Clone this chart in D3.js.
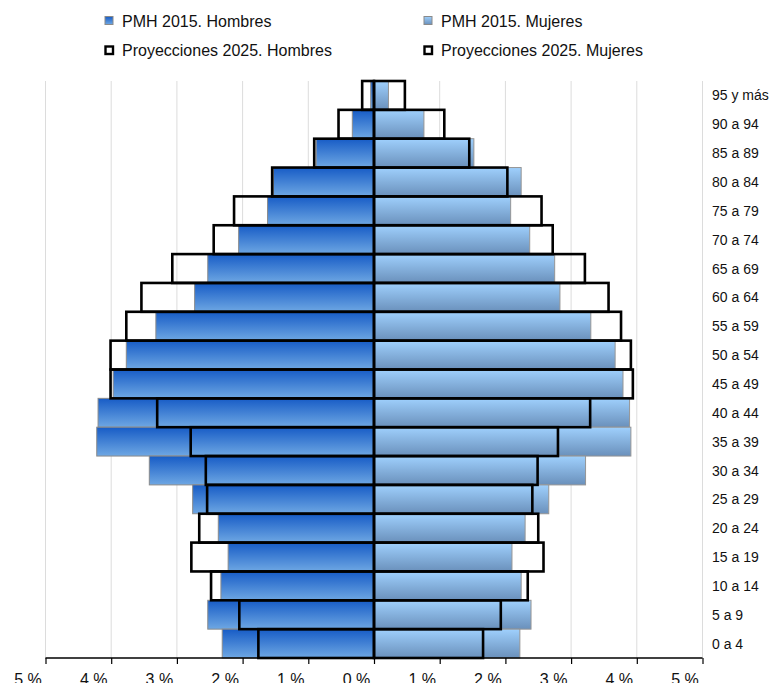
<!DOCTYPE html>
<html>
<head>
<meta charset="utf-8">
<script src="https://cdn.jsdelivr.net/npm/d3@7"></script>
<style>
  body { margin: 0; background: #fff; }
  svg { display: block; font-family: "Liberation Sans", Arial, sans-serif; }
</style>
</head>
<body>
<div id="chart"></div>
<script>
// age groups, top to bottom
const ages = ["95 y más", "90 a 94", "85 a 89", "80 a 84", "75 a 79", "70 a 74", "65 a 69",
  "60 a 64", "55 a 59", "50 a 54", "45 a 49", "40 a 44", "35 a 39", "30 a 34", "25 a 29",
  "20 a 24", "15 a 19", "10 a 14", "5 a 9", "0 a 4"];

// % of population
const pmhHombres = [0.05, 0.33, 0.88, 1.53, 1.62, 2.06, 2.53, 2.73, 3.32, 3.77, 3.97, 4.20,
  4.22, 3.42, 2.76, 2.37, 2.22, 2.33, 2.53, 2.31];
const pmhMujeres = [0.22, 0.76, 1.52, 2.24, 2.08, 2.37, 2.75, 2.83, 3.30, 3.67, 3.79, 3.89,
  3.91, 3.22, 2.66, 2.30, 2.10, 2.24, 2.39, 2.22];
const proyHombres = [0.18, 0.54, 0.91, 1.55, 2.13, 2.44, 3.07, 3.54, 3.77, 4.01, 4.01, 3.30,
  2.79, 2.56, 2.54, 2.66, 2.78, 2.48, 2.05, 1.76];
const proyMujeres = [0.47, 1.07, 1.45, 2.03, 2.55, 2.72, 3.21, 3.57, 3.76, 3.91, 3.94, 3.29,
  2.80, 2.49, 2.41, 2.50, 2.58, 2.34, 1.93, 1.66];

const xTicks = [-5, -4, -3, -2, -1, 0, 1, 2, 3, 4, 5];
const legendItems = ["PMH 2015. Hombres", "PMH 2015. Mujeres",
  "Proyecciones 2025. Hombres", "Proyecciones 2025. Mujeres"];

const width = 772, height = 683;
const plotTop = 81, plotBottom = 658;

const svg = d3.select("#chart").append("svg")
  .attr("width", width)
  .attr("height", height);

const defs = svg.append("defs");
function grad(id, c1, c2) {
  const g = defs.append("linearGradient").attr("id", id)
    .attr("x1", 0).attr("y1", 0).attr("x2", 0).attr("y2", 1);
  g.append("stop").attr("offset", "0%").attr("stop-color", c1);
  g.append("stop").attr("offset", "100%").attr("stop-color", c2);
}
grad("gMen", "#175cc6", "#6ea7e3");
grad("gWomen", "#9fd0fd", "#6a90bb");

const x = d3.scaleLinear().domain([-5, 5]).range([45.5, 702.5]);
const y = d3.scaleBand().domain(ages).range([plotTop, plotBottom]).padding(0);

// gridlines
svg.append("g").attr("class", "grid")
  .selectAll("line")
  .data(xTicks.filter(d => d !== 0))
  .join("line")
  .attr("x1", d => x(d)).attr("x2", d => x(d))
  .attr("y1", plotTop).attr("y2", plotBottom)
  .attr("stroke", "#dcdcdc")
  .attr("stroke-width", 1);

// 2015 bars
const rows = ages.map((a, i) => ({
  age: a, mh: pmhHombres[i], mm: pmhMujeres[i], ph: proyHombres[i], pm: proyMujeres[i]
}));

svg.append("g").attr("class", "pmh-h")
  .selectAll("rect")
  .data(rows)
  .join("rect")
  .attr("x", d => x(-d.mh))
  .attr("y", d => y(d.age))
  .attr("width", d => x(0) - x(-d.mh))
  .attr("height", y.bandwidth())
  .attr("fill", "url(#gMen)")
  .attr("stroke", "#8a8a8a")
  .attr("stroke-width", 1);

svg.append("g").attr("class", "pmh-m")
  .selectAll("rect")
  .data(rows)
  .join("rect")
  .attr("x", x(0))
  .attr("y", d => y(d.age))
  .attr("width", d => x(d.mm) - x(0))
  .attr("height", y.bandwidth())
  .attr("fill", "url(#gWomen)")
  .attr("stroke", "#959595")
  .attr("stroke-width", 1);

// 2025 projections as outlines
svg.append("g").attr("class", "proy-h")
  .selectAll("rect")
  .data(rows)
  .join("rect")
  .attr("x", d => x(-d.ph))
  .attr("y", d => y(d.age))
  .attr("width", d => x(0) - x(-d.ph))
  .attr("height", y.bandwidth())
  .attr("fill", "none")
  .attr("stroke", "#000")
  .attr("stroke-width", 2.6);

svg.append("g").attr("class", "proy-m")
  .selectAll("rect")
  .data(rows)
  .join("rect")
  .attr("x", x(0))
  .attr("y", d => y(d.age))
  .attr("width", d => x(d.pm) - x(0))
  .attr("height", y.bandwidth())
  .attr("fill", "none")
  .attr("stroke", "#000")
  .attr("stroke-width", 2.6);

// vertical axis at 0
svg.append("line")
  .attr("x1", x(0)).attr("x2", x(0))
  .attr("y1", plotTop).attr("y2", plotBottom)
  .attr("stroke", "#000").attr("stroke-width", 1.5);

// category labels on the right
svg.append("g").attr("class", "ages")
  .selectAll("text")
  .data(ages)
  .join("text")
  .attr("x", 712)
  .attr("y", d => y(d) + y.bandwidth() / 2)
  .attr("dy", "0.36em")
  .attr("font-size", 14)
  .attr("fill", "#111")
  .text(d => d);

// bottom axis
const xAxis = d3.axisBottom(x)
  .tickValues(xTicks)
  .tickSize(6)
  .tickFormat(d => Math.abs(d) + " %");

const ax = svg.append("g")
  .attr("transform", `translate(0,${plotBottom})`)
  .call(xAxis);
ax.select(".domain").attr("stroke", "#000").attr("stroke-width", 1.5)
  .attr("d", `M${x(-5)},0H${x(5)}`);
ax.selectAll(".tick line").attr("stroke", "#000").attr("stroke-width", 1.2);
ax.selectAll(".tick text")
  .attr("font-family", "Liberation Sans, Arial, sans-serif")
  .attr("font-size", 16)
  .attr("fill", "#111")
  .attr("dx", -18)
  .attr("dy", 0)
  .attr("y", 27);

// legend
const legend = svg.append("g").attr("class", "legend");
const legPos = [[105, 20.5], [424, 20.5], [105, 50], [424, 50]];
legendItems.forEach((t, i) => {
  const [lx, ly] = legPos[i];
  const g = legend.append("g").attr("transform", `translate(${lx},${ly})`);
  if (i < 2) {
    g.append("rect").attr("x", 0).attr("y", -4).attr("width", 8).attr("height", 8)
      .attr("fill", i === 0 ? "url(#gMen)" : "url(#gWomen)")
      .attr("stroke", "#8a8a8a").attr("stroke-width", 1);
  } else {
    g.append("rect").attr("x", 0.5).attr("y", -3.5).attr("width", 7.5).attr("height", 7.5)
      .attr("fill", "#fff")
      .attr("stroke", "#000").attr("stroke-width", 2.4);
  }
  g.append("text").attr("x", 17).attr("y", 6).attr("font-size", 16)
    .attr("fill", "#111").text(t);
});
</script>
</body>
</html>
